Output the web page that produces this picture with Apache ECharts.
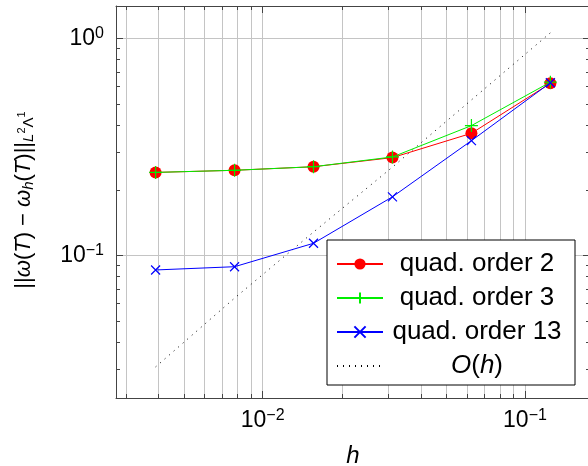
<!DOCTYPE html>
<html>
<head>
<meta charset="utf-8">
<script src="https://cdn.jsdelivr.net/npm/echarts@6/dist/echarts.min.js"></script>
<style>
    html, body { margin: 0; padding: 0; background: #fff; }
    #chart { width: 588px; height: 466px; }
</style>
</head>
<body>
<div id="chart"></div>
<script>
// mesh sizes h = 1/256 ... 1/8
const hValues = [0.00390625, 0.0078125, 0.015625, 0.03125, 0.0625, 0.125];
const errOrder2 = [0.241, 0.2465, 0.256, 0.282, 0.365, 0.620];
const errOrder3 = [0.241, 0.2465, 0.256, 0.284, 0.396, 0.628];
const errOrder13 = [0.0856, 0.0886, 0.1136, 0.186, 0.3375, 0.624];
const refOh = [0.0306, 0.0635, 0.128, 0.255, 0.52, 1.06];

const xMinorTicks = [0.003, 0.004, 0.005, 0.006, 0.007, 0.008, 0.009,
    0.02, 0.03, 0.04, 0.05, 0.06, 0.07, 0.08, 0.09];
const yMinorTicks = [0.03, 0.04, 0.05, 0.06, 0.07, 0.08, 0.09,
    0.2, 0.3, 0.4, 0.5, 0.6, 0.7, 0.8, 0.9];

const FONT = 'Liberation Sans';
const axisColor = '#444';
const gridColor = '#c4c4c4';

const chartDom = document.getElementById('chart');
const myChart = echarts.init(chartDom);

function pair(xs, ys) {
    return xs.map((x, i) => [x, ys[i]]);
}

function powLabel(v) {
    const e = Math.log10(v);
    const r = Math.round(e);
    if (Math.abs(e - r) > 1e-6) return '';
    return '{b|10}{s|' + (r < 0 ? '\u2212' + (-r) : r) + '}';
}

const labelRich = {
    b: { fontFamily: FONT, fontSize: 23, color: '#000' },
    s: { fontFamily: FONT, fontSize: 16, color: '#000', padding: [0, 0, 10, 0] }
};

const xMin = 0.002759, xMax = 0.177;
const yMin = 0.022, yMax = 1.409;

function baseAxis(min, max) {
    return {
        type: 'log',
        logBase: 10,
        min: min,
        max: max,
        splitNumber: 2,
        axisLine: { show: true, lineStyle: { color: axisColor, width: 1 } },
        axisTick: { show: true, inside: true, length: 7, lineStyle: { color: axisColor } },
        minorTick: { show: false },
        splitLine: { show: false }
    };
}

const plus = 'path://M5,0L5,10M0,5L10,5';
const cross = 'path://M0,0L10,10M0,10L10,0';

const yTitle = '{n|||}{i|ω}{n|(}{i|T}{n|) \u2212 }{i|ω}{sub|h}{n|(}{i|T}{n|)||}{sub|L}{sup|2}{subu|Λ}{sup|1}';

const option = {
    animation: false,
    backgroundColor: '#fff',
    grid: { left: 116, top: 6, right: -2, bottom: 68, outerBoundsMode: 'none', containLabel: false },
    graphic: [
        {
            type: 'text',
            x: 24,
            y: 200,
            rotation: Math.PI / 2,
            style: {
                text: yTitle,
                align: 'center',
                verticalAlign: 'middle',
                rich: {
                    n: { fontFamily: FONT, fontSize: 22, fill: '#000' },
                    i: { fontFamily: FONT, fontSize: 22, fontStyle: 'italic', fill: '#000' },
                    sub: { fontFamily: FONT, fontSize: 15, fontStyle: 'italic', fill: '#000', padding: [9, 0, 0, 0] },
                    subu: { fontFamily: FONT, fontSize: 15, fill: '#000', padding: [9, 0, 0, 0] },
                    sup: { fontFamily: FONT, fontSize: 11, fill: '#000', padding: [0, 0, 4, 0] }
                }
            }
        }
    ],
    xAxis: [
        Object.assign(baseAxis(xMin, xMax), {
            position: 'bottom',
            splitLine: { show: true, lineStyle: { color: gridColor, width: 1 } },
            axisLabel: { formatter: powLabel, margin: 10, rich: labelRich },
            name: 'h',
            nameLocation: 'middle',
            nameGap: 46,
            nameTextStyle: { fontFamily: FONT, fontStyle: 'italic', fontSize: 24, color: '#000' }
        }),
        Object.assign(baseAxis(xMin, xMax), {
            position: 'top',
            axisLabel: { show: false }
        })
    ],
    yAxis: [
        Object.assign(baseAxis(yMin, yMax), {
            position: 'left',
            splitLine: { show: true, lineStyle: { color: gridColor, width: 1 } },
            axisLabel: { formatter: powLabel, margin: 12, rich: labelRich }
        }),
        Object.assign(baseAxis(yMin, yMax), {
            position: 'right',
            axisLabel: { show: false }
        })
    ],
    legend: {
        data: [
            'quad. order 2',
            'quad. order 3',
            'quad. order 13',
            { name: 'O(h)', itemStyle: { opacity: 0 } }
        ],
        orient: 'vertical',
        left: 327,
        top: 240,
        backgroundColor: '#fff',
        borderColor: '#000',
        borderWidth: 1,
        borderRadius: 0,
        padding: [11, 9, 6, 9],
        itemGap: 8,
        itemWidth: 46,
        itemHeight: 14,
        formatter: function (name) {
            if (name === 'O(h)') {
                return '{pad|}{i|O}{a2|(}{i|h}{a2|)}';
            }
            return '{a|' + name + '}';
        },
        textStyle: {
            fontFamily: FONT,
            fontSize: 26,
            lineHeight: 22,
            color: '#000',
            rich: {
                a: { fontFamily: FONT, fontSize: 26, width: 178, align: 'center', lineHeight: 22 },
                a2: { fontFamily: FONT, fontSize: 26, lineHeight: 22 },
                i: { fontFamily: FONT, fontSize: 26, fontStyle: 'italic', lineHeight: 22 },
                pad: { width: 63, lineHeight: 22 }
            }
        }
    },
    series: [
        {
            name: 'xMinor',
            type: 'custom',
            silent: true,
            z: 1,
            data: xMinorTicks.map(v => [v, 0.1]),
            renderItem: function (params, api) {
                const x = Math.round(api.coord([api.value(0), api.value(1)])[0]) + 0.5;
                const cs = params.coordSys;
                const top = cs.y, bottom = cs.y + cs.height;
                return {
                    type: 'group',
                    children: [
                        { type: 'line', shape: { x1: x, y1: top, x2: x, y2: bottom }, style: { stroke: gridColor, lineWidth: 1 } },
                        { type: 'line', shape: { x1: x, y1: top, x2: x, y2: top + 4 }, style: { stroke: axisColor, lineWidth: 1 } },
                        { type: 'line', shape: { x1: x, y1: bottom - 4, x2: x, y2: bottom }, style: { stroke: axisColor, lineWidth: 1 } }
                    ]
                };
            }
        },
        {
            name: 'yMinor',
            type: 'custom',
            silent: true,
            z: 1,
            data: yMinorTicks.map(v => [0.01, v]),
            renderItem: function (params, api) {
                const y = Math.round(api.coord([api.value(0), api.value(1)])[1]) + 0.5;
                const cs = params.coordSys;
                const left = cs.x, right = cs.x + cs.width;
                return {
                    type: 'group',
                    children: [
                        { type: 'line', shape: { x1: left, y1: y, x2: left + 4, y2: y }, style: { stroke: axisColor, lineWidth: 1 } },
                        { type: 'line', shape: { x1: right - 4, y1: y, x2: right, y2: y }, style: { stroke: axisColor, lineWidth: 1 } }
                    ]
                };
            }
        },
        {
            name: 'O(h)',
            type: 'line',
            data: pair(hValues, refOh),
            symbol: 'none',
            z: 2,
            lineStyle: { color: '#000', width: 1, type: [1, 5] },
            itemStyle: { color: '#000' }
        },
        {
            name: 'quad. order 2',
            type: 'line',
            data: pair(hValues, errOrder2),
            symbol: 'circle',
            symbolSize: 12,
            z: 3,
            lineStyle: { color: '#ff0000', width: 1 },
            itemStyle: { color: '#ff0000' }
        },
        {
            name: 'quad. order 3',
            type: 'line',
            data: pair(hValues, errOrder3),
            symbol: plus,
            symbolSize: 13,
            z: 4,
            lineStyle: { color: '#00ee00', width: 1 },
            itemStyle: { color: '#00ee00', borderColor: '#00ee00', borderWidth: 1.2 }
        },
        {
            name: 'quad. order 13',
            type: 'line',
            data: pair(hValues, errOrder13),
            symbol: cross,
            symbolSize: 9,
            z: 5,
            lineStyle: { color: '#0000ff', width: 1 },
            itemStyle: { color: '#0000ff', borderColor: '#0000ff', borderWidth: 1.2 }
        }
    ]
};

myChart.setOption(option);
</script>
</body>
</html>
